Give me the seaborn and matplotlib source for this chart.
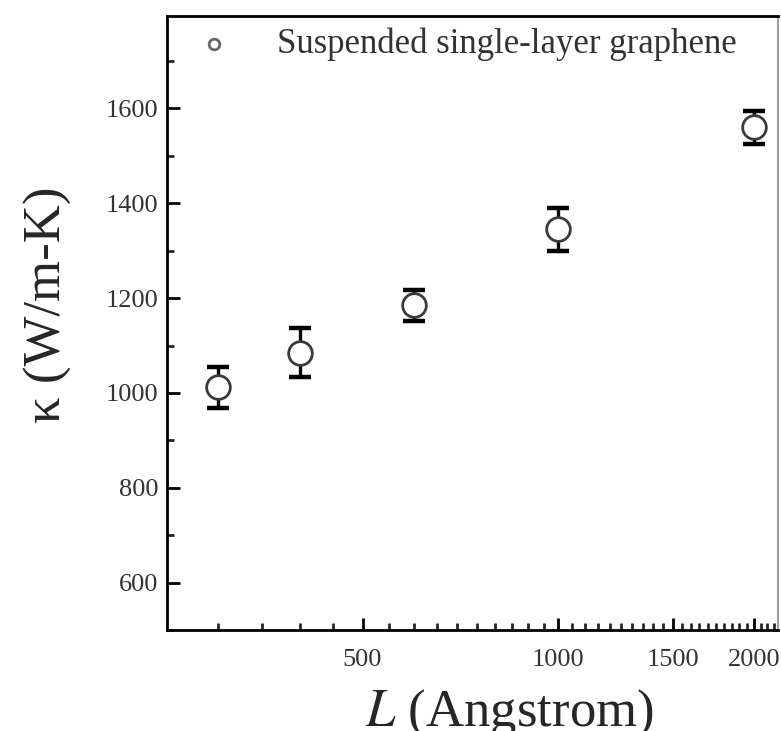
import numpy as np
import pandas as pd
import matplotlib
matplotlib.use("Agg")
import matplotlib.pyplot as plt
from matplotlib.ticker import FixedLocator, FixedFormatter, NullFormatter
import seaborn as sns

# Thermal conductivity of suspended single-layer graphene vs. sample length
length_A = [300, 400, 600, 1000, 2000]
kappa = [1012, 1085, 1185, 1345, 1560]
kappa_err = [43, 52, 33, 45, 35]

x_major = [500, 1000, 1500, 2000]
x_major_labels = ["500", "1000", "1500", "2000"]
y_major = [600, 800, 1000, 1200, 1400, 1600]

series_name = "Suspended single-layer graphene"

df = pd.DataFrame({"L": length_A, "kappa": kappa, "err": kappa_err})

sns.set_theme(style="ticks")
plt.rcParams["font.family"] = ["Liberation Serif", "DejaVu Serif"]
plt.rcParams["mathtext.fontset"] = "stix"

fig = plt.figure(figsize=(7.81, 7.31), dpi=100)
ax = fig.add_axes([0.2138, 0.1382, 0.9962 - 0.2138, 0.9781 - 0.1382])

ax.errorbar(df["L"], df["kappa"], yerr=df["err"], fmt="none",
            ecolor="black", elinewidth=2.4, capsize=8, capthick=3.2, zorder=2)
sns.scatterplot(data=df, x="L", y="kappa", ax=ax, marker="o", s=290,
                facecolor="white", edgecolor="#3a3a3a", linewidth=2.0,
                label=series_name, zorder=3)

ax.set_xscale("log")
ax.set_xlim(250, 2180)
ax.set_ylim(500, 1795)

ax.xaxis.set_major_locator(FixedLocator(x_major))
ax.xaxis.set_major_formatter(FixedFormatter(x_major_labels))
minor_x = [v for v in range(300, 2180, 50) if v not in x_major]
ax.xaxis.set_minor_locator(FixedLocator(minor_x))
ax.xaxis.set_minor_formatter(NullFormatter())

ax.yaxis.set_major_locator(FixedLocator(y_major))
ax.yaxis.set_minor_locator(FixedLocator(list(range(500, 1800, 100))))

ax.tick_params(axis="both", which="major", direction="in", length=9, width=2,
               labelsize=19, colors="black", top=False, right=False)
ax.tick_params(axis="y", which="major", pad=6)
ax.tick_params(axis="x", which="major", pad=14)
ax.tick_params(axis="both", which="minor", direction="in", length=5, width=2,
               top=False, right=False)
for lab in ax.get_xticklabels() + ax.get_yticklabels():
    lab.set_color("#333333")

for side, sp in ax.spines.items():
    sp.set_linewidth(2.0)
    sp.set_color("black")
ax.spines["right"].set_color("#888888")
ax.spines["right"].set_linewidth(1.2)

ax.set_xlabel("$L$ (Angstrom)", fontsize=38)
ax.xaxis.set_label_coords(0.561, -0.093)
ax.set_ylabel("κ (W/m-K)", fontsize=38)
ax.yaxis.set_label_coords(-0.155, 0.53)

leg = ax.legend(loc="upper left", bbox_to_anchor=(0.015, 1.015), frameon=False,
                fontsize=25, markerscale=0.45, handlelength=1.0,
                handletextpad=1.3, borderaxespad=0.2)
for t in leg.get_texts():
    t.set_color("#333333")
for h in leg.legend_handles:
    h.set_edgecolor("#666666")

fig.savefig("out.png", dpi=100)
